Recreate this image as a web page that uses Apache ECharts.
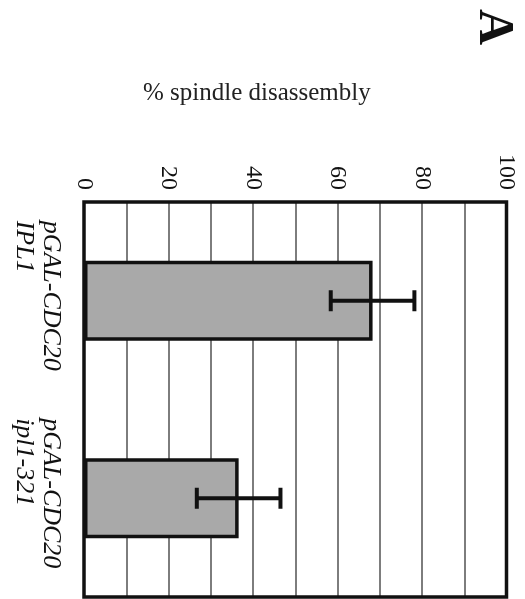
<!DOCTYPE html>
<html>
<head>
<meta charset="utf-8">
<script src="https://cdn.jsdelivr.net/npm/echarts@6/dist/echarts.min.js"></script>
<style>
  html, body { margin: 0; padding: 0; background: #fff; }
  #chart { width: 525px; height: 599px; }
</style>
</head>
<body>
<div id="chart"></div>
<script>
// Strains (two-line labels), mean % spindle disassembly and error half-widths
const strains = ['pGAL-CDC20\nIPL1', 'pGAL-CDC20\nipl1-321'];
const disassemblyPct = [68.3, 36.6];
const errorPct = [9.9, 9.9];
const tickValues = [0, 20, 40, 60, 80, 100];

const serif = '"Liberation Serif", "DejaVu Serif", serif';
const chart = echarts.init(document.getElementById('chart'), null, { renderer: 'canvas' });

const errorData = strains.map((s, i) => [i, disassemblyPct[i], errorPct[i]]);

chart.setOption({
  animation: false,
  backgroundColor: '#fff',
  title: {
    text: '% spindle disassembly',
    left: 138,
    top: 76,
    textStyle: { fontFamily: serif, fontSize: 25, fontWeight: 'normal', color: '#222' }
  },
  graphic: [{
    type: 'text',
    x: 493,
    y: 27,
    rotation: -Math.PI / 2,
    style: {
      text: 'A',
      font: 'bold 50px "Liberation Serif", serif',
      fill: '#111',
      textAlign: 'center',
      textVerticalAlign: 'middle'
    }
  }],
  grid: {
    left: 84, right: 18.5, top: 202, bottom: 2,
    show: true,
    z: 10,
    borderColor: '#111',
    borderWidth: 3.5,
    backgroundColor: 'transparent'
  },
  xAxis: {
    type: 'value',
    position: 'top',
    min: 0,
    max: 100,
    interval: 20,
    axisLine: { show: false },
    axisTick: { show: false },
    minorTick: { show: false, splitNumber: 2 },
    splitLine: { show: true, lineStyle: { color: '#7d7d7d', width: 2 } },
    minorSplitLine: { show: true, lineStyle: { color: '#7d7d7d', width: 2 } },
    axisLabel: {
      rotate: 90,
      align: 'right',
      verticalAlign: 'middle',
      margin: 12,
      fontFamily: serif,
      fontSize: 24,
      color: '#111',
      formatter: v => tickValues.includes(v) ? String(v) : ''
    }
  },
  yAxis: {
    type: 'category',
    inverse: true,
    data: strains,
    axisLine: { show: false },
    axisTick: { show: false },
    splitLine: { show: false },
    axisLabel: {
      rotate: -90,
      align: 'center',
      verticalAlign: 'top',
      margin: 20,
      padding: [0, 10, 0, 0],
      color: '#111',
      formatter: v => v.split('\n').map(line => '{s|' + line + '}').join('\n'),
      rich: {
        s: {
          align: 'left',
          fontFamily: serif,
          fontStyle: 'italic',
          fontSize: 26,
          lineHeight: 27,
          color: '#111'
        }
      }
    }
  },
  series: [
    {
      type: 'bar',
      data: disassemblyPct,
      barWidth: '40.5%',
      itemStyle: { color: '#a9a9a9', borderColor: '#111', borderWidth: 3.5 },
      z: 2
    },
    {
      type: 'custom',
      data: errorData,
      encode: { x: 1, y: 0 },
      z: 3,
      renderItem: (params, api) => {
        const cat = api.value(0);
        const v = api.value(1);
        const e = api.value(2);
        const lo = api.coord([v - e, cat]);
        const hi = api.coord([v + e, cat]);
        const cap = 10.5;
        const st = { stroke: '#111', lineWidth: 4 };
        return {
          type: 'group',
          children: [
            { type: 'line', shape: { x1: lo[0], y1: lo[1], x2: hi[0], y2: hi[1] }, style: st },
            { type: 'line', shape: { x1: lo[0], y1: lo[1] - cap, x2: lo[0], y2: lo[1] + cap }, style: st },
            { type: 'line', shape: { x1: hi[0], y1: hi[1] - cap, x2: hi[0], y2: hi[1] + cap }, style: st }
          ]
        };
      }
    }
  ]
});
</script>
</body>
</html>
